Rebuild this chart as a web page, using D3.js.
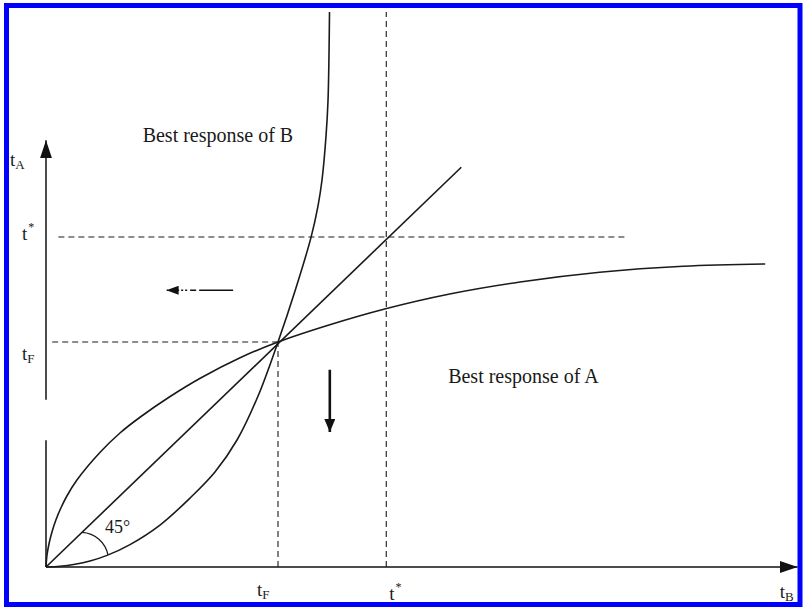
<!DOCTYPE html>
<html>
<head>
<meta charset="utf-8">
<script src="https://cdn.jsdelivr.net/npm/d3@7"></script>
<style>
  body { margin: 0; background: #fff; }
  svg { display: block; }
  text { font-family: "Liberation Serif", "DejaVu Serif", serif; fill: #1a1a1a; }
</style>
</head>
<body>
<div id="chart"></div>
<script>
// key values (abstract units)
var tF = 3.0;
var tStar = 4.4;

// best response curves [tB, tA]
var bestA = [[0, 0], [0.013, 0.16], [0.039, 0.31], [0.078, 0.47], [0.129, 0.63],
  [0.194, 0.79], [0.272, 0.95], [0.40, 1.16], [0.70, 1.53], [0.96, 1.79],
  [1.22, 2.0], [1.60, 2.27], [2.0, 2.52], [2.51, 2.79], [3.0, 3.0],
  [3.67, 3.23], [4.38, 3.44], [5.22, 3.64], [6.13, 3.8], [7.16, 3.93],
  [8.24, 4.01], [9.30, 4.04]];
var bestB = [[0, 0], [0.181, 0.009], [0.375, 0.036], [0.569, 0.08], [0.789, 0.155],
  [1.086, 0.299], [1.474, 0.559], [1.862, 0.919], [2.185, 1.267], [2.47, 1.693],
  [2.742, 2.28], [3.0, 3.0], [3.22, 3.68], [3.427, 4.395], [3.517, 4.813],
  [3.569, 5.16], [3.621, 5.747], [3.647, 6.227], [3.666, 7.4]];
var diag = [[0, 0], [5.37, 5.33]];

// axis extents; the y axis has a break in the scan
var yAxisParts = [[0, 1.69], [2.23, 5.69]];
var xAxisEnd = 9.72;

// guide lines
var hGuides = [{ y: tStar, x0: 0.16, x1: 7.5 }, { y: tF, x0: 0.08, x1: tF }];
var vGuides = [{ x: tStar, y0: 0, y1: 7.4 }, { x: tF, y0: 0, y1: tF }];

// adjustment arrows [from, to]
var arrows = [
  { from: [2.42, 3.69], to: [1.56, 3.69], w: 1.3, dash: "34,3,6,3,2,2,2,2,2,9,1.5", head: "smallHead" },
  { from: [3.67, 2.63], to: [3.67, 1.8], w: 2.6, dash: null, head: "downHead" }
];

var width = 803, height = 607;

var x = d3.scaleLinear().domain([0, 9.75]).range([46, 800]);
var y = d3.scaleLinear().domain([0, 7.56]).range([567, 0]);

var svg = d3.select("#chart").append("svg")
  .attr("width", width)
  .attr("height", height);

var defs = svg.append("defs");
function marker(id, len, half) {
  defs.append("marker")
    .attr("id", id)
    .attr("viewBox", "0 0 " + len + " " + (half * 2))
    .attr("refX", len).attr("refY", half)
    .attr("markerWidth", len).attr("markerHeight", half * 2)
    .attr("markerUnits", "userSpaceOnUse")
    .attr("orient", "auto")
    .append("path")
    .attr("d", "M0,0L" + len + "," + half + "L0," + (half * 2) + "Z")
    .attr("fill", "#111");
}
marker("axisHead", 18, 6);
marker("smallHead", 12, 4.5);
marker("downHead", 13, 5.5);

var line = d3.line().x(d => x(d[0])).y(d => y(d[1]));
var curve = d3.line().x(d => x(d[0])).y(d => y(d[1])).curve(d3.curveCatmullRom.alpha(0.5));

// axes
svg.selectAll(".yax").data(yAxisParts).enter().append("line")
  .attr("x1", x(0)).attr("x2", x(0))
  .attr("y1", d => y(d[0])).attr("y2", d => y(d[1]))
  .attr("stroke", "#111").attr("stroke-width", 1.5)
  .attr("marker-end", (d, i) => i === yAxisParts.length - 1 ? "url(#axisHead)" : null);

svg.append("line")
  .attr("x1", x(0)).attr("x2", x(xAxisEnd))
  .attr("y1", y(0)).attr("y2", y(0))
  .attr("stroke", "#111").attr("stroke-width", 1.5)
  .attr("marker-end", "url(#axisHead)");

// dashed guides
svg.selectAll(".hg").data(hGuides).enter().append("line")
  .attr("x1", d => x(d.x0)).attr("x2", d => x(d.x1))
  .attr("y1", d => y(d.y)).attr("y2", d => y(d.y))
  .attr("stroke", "#1a1a1a").attr("stroke-width", 1.1)
  .attr("stroke-dasharray", "6,4");

svg.selectAll(".vg").data(vGuides).enter().append("line")
  .attr("x1", d => x(d.x)).attr("x2", d => x(d.x))
  .attr("y1", d => y(d.y0)).attr("y2", d => y(d.y1))
  .attr("stroke", "#1a1a1a").attr("stroke-width", 1.1)
  .attr("stroke-dasharray", "6,4");

// curves
svg.append("path").attr("d", line(diag))
  .attr("fill", "none").attr("stroke", "#1a1a1a").attr("stroke-width", 1.6);
svg.append("path").attr("d", curve(bestA))
  .attr("fill", "none").attr("stroke", "#1a1a1a").attr("stroke-width", 1.6);
var bPath = svg.append("path").attr("d", curve(bestB))
  .attr("fill", "none").attr("stroke", "#1a1a1a").attr("stroke-width", 1.6);

// 45 degree arc: from the diagonal to B's curve
var r1 = 50, r2 = 63;
var ang = Math.atan2(y(0) - y(diag[1][1]), x(diag[1][0]) - x(0));
var S = [x(0) + r1 * Math.cos(ang), y(0) - r1 * Math.sin(ang)];
var node = bPath.node(), total = node.getTotalLength(), E = null;
for (var s = 0; s <= total; s += 0.5) {
  var p = node.getPointAtLength(s);
  if (Math.hypot(p.x - x(0), p.y - y(0)) >= r2) { E = [p.x, p.y]; break; }
}
svg.append("path")
  .attr("d", "M" + S[0] + "," + S[1] + "A28,28 0 0 1 " + E[0] + "," + E[1])
  .attr("fill", "none").attr("stroke", "#1a1a1a").attr("stroke-width", 1.3);

// arrows
svg.selectAll(".arr").data(arrows).enter().append("line")
  .attr("x1", d => x(d.from[0])).attr("y1", d => y(d.from[1]))
  .attr("x2", d => x(d.to[0])).attr("y2", d => y(d.to[1]))
  .attr("stroke", "#111").attr("stroke-width", d => d.w)
  .attr("stroke-dasharray", d => d.dash)
  .attr("marker-end", d => "url(#" + d.head + ")");

// labels
svg.append("text").attr("x", x(1.25)).attr("y", y(5.67))
  .attr("font-size", 20).text("Best response of B");
svg.append("text").attr("x", x(5.2)).attr("y", y(2.45))
  .attr("font-size", 20).text("Best response of A");
svg.append("text").attr("x", x(0) + 59).attr("y", y(0) - 34)
  .attr("font-size", 18).text("45°");

function tLabel(px, py, sub, sup) {
  var t = svg.append("text").attr("x", px).attr("y", py).attr("font-size", 19);
  t.append("tspan").text("t");
  if (sub) t.append("tspan").attr("font-size", 13).attr("dy", 3).text(sub);
  if (sup) t.append("tspan").attr("font-size", 12).attr("dy", -9).attr("dx", 1).text(sup);
}
// y axis labels
tLabel(x(0) - 36, y(5.35), "A");
tLabel(x(0) - 24, y(tStar) + 3, null, "*");
tLabel(x(0) - 24, y(tF) + 18, "F");
// x axis labels
tLabel(x(tF) - 21, 596, "F");
tLabel(x(tStar) + 3, 600, null, "*");
tLabel(x(xAxisEnd) - 18, 598, "B");

// blue frame
svg.append("rect")
  .attr("x", 6.5).attr("y", 5.5)
  .attr("width", 793.5).attr("height", 599)
  .attr("fill", "none").attr("stroke", "#0000ff").attr("stroke-width", 5);
</script>
</body>
</html>
